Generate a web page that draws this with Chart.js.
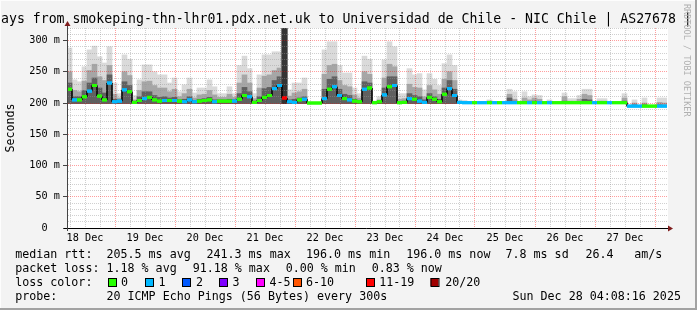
<!DOCTYPE html>
<html><head><meta charset="utf-8">
<script src="https://cdn.jsdelivr.net/npm/chart.js@4/dist/chart.umd.min.js"></script>
<style>html,body{margin:0;padding:0;background:#f3f3f3;}canvas{display:block}</style>
</head><body>
<canvas id="c" width="697" height="310"></canvas>
<script>
// ---- data ----
const dayLabels = ['18 Dec','19 Dec','20 Dec','21 Dec','22 Dec','23 Dec','24 Dec','25 Dec','26 Dec','27 Dec'];
const windowStartHour = 4.8;   // hours after 18 Dec 00:00
const windowHours = 240;
const binHours = 2;
const yTickValues = [0,10,20,30,40,50,60,70,80,90,100,110,120,130,140,150,160,170,180,190,200,210,220,230,240,250,260,270,280,290,300,310,320];

const medianRtt = [
222,205,205,210,219,228,211,205,232,202, 203,221,218,201,204,207,209,205,203,204,
204,204,203,202,205,202,203,204,205,202, 203,203,203,203,206,212,210,201,204,209,
212,223,228,208,202,201,205,206,200,200, 200,207,222,226,212,207,205,203,202,222,
224,200.5,202,213,226,228,200.5,201,207,206, 203,201,209,206,202,214,223,212,201,200.5,
200.5,200.5,200.5,200.5,200.5,200.5,200.5,200.5,200.5,200.5, 200.5,200.5,200.5,200.5,200.5,200.5,200.5,200.5,200.5,200.5,
200.5,200.5,200.5,200.5,200.5,200.5,200.5,200.5,200.5,200.5, 200.5,200.5,195,195,195,195,195,195,195,195];
const lossCount = [
0,1,0,0,1,0,0,0,1,1, 1,1,0,0,0,1,0,0,0,1,
0,1,0,1,1,1,0,0,0,1, 0,0,0,1,0,0,1,0,0,0,
0,1,1,15,1,1,0,1,0,0, 0,1,0,1,1,0,1,0,0,1,
0,0,0,1,0,1,0,0,1,0, 1,1,0,0,0,0,1,1,1,1,
1,0,1,1,0,1,0,1,1,1, 0,0,1,0,1,0,1,0,0,0,
0,0,0,0,0,1,0,0,1,0, 0,0,1,1,1,0,0,0,1,1];
const smokeMin = [
199,199,199,199,199,199,199,199,199,199, 199,199,199,199,199,199,199,199,199,199,
199,199,199,199,199,199,199,199,199,199, 199,199,199,199,199,199,199,199,199,199,
199,199,199,199,199,199,199,199,199,199, 199,199,199,199,199,199,199,199,199,199,
199,199,199,199,199,199,199,199,199,199, 199,199,199,199,199,199,199,199,199,199,
199,199,199,199,199,199,199,199,199,199, 199,199,199,199,199,199,199,199,199,199,
199,199,199,199,199,199,199,199,199,199, 199,199,194,194,194,194,194,194,194,194];
const smokeDark = [
232,210,210,220,232,240,224,216,245,206, 205,234,228,202,210,218,218,212,209,210,
208,209,205,206,210,204,206,207,209,205, 205,205,206,205,215,225,218,203,210,223,
225,236,242,320,205,206,208,210,200,200, 200,222,238,242,222,214,212,206,204,234,
232,200.5,203,224,242,242,202,203,215,212, 210,205,215,210,206,224,236,222,201,200.5,
200.5,200.5,200.5,200.5,201,200.5,200.5,200.5,208,203, 200.5,202,201,203,202,200.5,201,200.5,200.5,203,
201,201,202,206,205,200.5,201,201,200.5,200.5, 200.5,203,195,197,195,197,195,195,197,196];
const smokeMid = [
250,220,218,235,252,262,242,236,260,214, 208,250,244,205,220,234,235,228,224,224,
218,222,210,215,222,208,213,214,220,213, 209,209,214,209,232,245,232,207,224,243,
245,252,256,320,211,216,218,222,200,200, 200,246,260,262,236,228,226,213,208,250,
246,201,205,240,262,258,206,207,230,225, 224,210,228,221,214,238,250,236,202,201,
201,200.5,200.5,200.5,203,200.5,200.5,200.5,214,206, 201,208,205,208,206,200.5,202,200.5,200.5,210,
203,203,206,214,212,200.5,203,203,200.5,200.5, 200.5,208,195,200,195,200,195,195,201,200];
const smokeMax = [
288,237,234,258,285,291,274,264,290,232, 215,277,270,212,237,261,261,250,245,245,
232,240,218,229,240,216,224,224,237,226, 215,215,226,215,260,275,255,215,245,277,
277,282,282,320,221,232,232,240,201,200, 200,285,298,298,260,248,248,224,215,275,
270,203,210,269,298,290,215,215,255,245, 247,221,247,238,228,263,277,260,205,204,
202,201,201,201,205,201,201,201,222,218, 203,218,210,213,212,201,205,201,201,216,
207,207,212,222,222,201,207,207,201,201, 201,215,196,205,196,208,196,196,208,208];

const lossColors = [[0,'#26ff00'],[1,'#00b8ff'],[2,'#0059ff'],[3,'#7e00ff'],[5,'#ff00ff'],[10,'#ff5500'],[19,'#ff0000'],[20,'#a10000']];
const lossLegend = [['0','#26ff00'],['1','#00b8ff'],['2','#0059ff'],['3','#7e00ff'],['4-5','#ff00ff'],['6-10','#ff5500'],['11-19','#ff0000'],['20/20','#a10000']];

function lossColor(n){ for (const [lim,c] of lossColors) if (n <= lim) return c; return '#a10000'; }
const binX = medianRtt.map((_, i) => windowStartHour + binHours * i + binHours / 2);

const MONO = '"DejaVu Sans Mono", "Liberation Mono", monospace';
const MAJOR = 'rgba(255,0,0,0.38)';
const MINOR = 'rgba(150,150,150,0.45)';

function bars(low, high, color, heavyColor, order){
  return { type:'bar', data: binX.map((x,i)=>({x, y:[low[i], high[i]]})),
    backgroundColor: c => (lossCount[c.dataIndex] > 10 ? heavyColor : color),
    borderWidth:0, barPercentage:1, categoryPercentage:1, grouped:false, order };
}

const bgPlugin = {
  id:'bg',
  beforeDraw(chart){
    const {ctx, chartArea:a} = chart;
    ctx.save();
    ctx.fillStyle = '#f3f3f3'; ctx.fillRect(0,0,chart.width,chart.height);
    ctx.fillStyle = '#ffffff'; ctx.fillRect(a.left, a.top, a.right - a.left + 1, a.bottom - a.top);
    ctx.restore();
  },
  afterDraw(chart){
    const {ctx, chartArea:a} = chart;
    // redraw median line on top of grid
    ctx.save();
    ctx.beginPath(); ctx.rect(a.left, a.top - 2, a.right - a.left, a.bottom - a.top + 2); ctx.clip();
    [1,0].forEach(i => chart.getDatasetMeta(i).controller.draw());
    ctx.restore();

    ctx.save();
    // axes extensions and arrows
    ctx.strokeStyle = '#000'; ctx.lineWidth = 1;
    ctx.beginPath(); ctx.moveTo(a.left - 3, a.bottom + 0.5); ctx.lineTo(a.right + 2, a.bottom + 0.5); ctx.stroke();
    ctx.strokeStyle = '#444';
    ctx.beginPath(); ctx.moveTo(a.left + 0.5, a.bottom + 3); ctx.lineTo(a.left + 0.5, a.top - 3); ctx.stroke();
    ctx.fillStyle = '#7f1d1d';
    ctx.beginPath(); ctx.moveTo(a.left + 0.5, a.top - 7); ctx.lineTo(a.left - 2.5, a.top - 2); ctx.lineTo(a.left + 3.5, a.top - 2); ctx.closePath(); ctx.fill();
    ctx.beginPath(); ctx.moveTo(a.right + 6, a.bottom + 0.5); ctx.lineTo(a.right + 1, a.bottom - 2.5); ctx.lineTo(a.right + 1, a.bottom + 3.5); ctx.closePath(); ctx.fill();

    // title
    ctx.fillStyle = '#000'; ctx.textBaseline = 'alphabetic'; ctx.textAlign = 'left';
    ctx.font = '13.2px ' + MONO;
    ctx.fillText('ays from smokeping-thn-lhr01.pdx.net.uk to Universidad de Chile - NIC Chile | AS27678 |', 1, 23);

    // legend
    ctx.font = '11.67px ' + MONO;
    const put = (t, x, y) => ctx.fillText(t, x, y);
    put('median rtt:', 15.2, 258); put('205.5 ms avg', 106.5, 258); put('241.3 ms max', 206.5, 258);
    put('196.0 ms min', 306, 258); put('196.0 ms now', 406.2, 258); put('7.8 ms sd', 505.5, 258);
    put('26.4', 585.5, 258); put('am/s', 634.2, 258);
    put('packet loss:', 15.2, 272); put('1.18 % avg', 106.5, 272); put('91.18 % max', 192.7, 272);
    put('0.00 % min', 285.7, 272); put('0.83 % now', 371.7, 272);
    put('loss color:', 15.2, 286);
    const boxX = [108,145,182,219,256,293,366,430.5];
    const txtX = [121,158.5,196,232.5,269.5,306,379.2,445.2];
    lossLegend.forEach(([lab,col],k)=>{
      ctx.fillStyle = col; ctx.fillRect(boxX[k], 278, 8, 8);
      ctx.strokeStyle = '#000'; ctx.lineWidth = 1; ctx.strokeRect(boxX[k]+0.5, 278.5, 8, 8);
      ctx.fillStyle = '#000'; put(lab, txtX[k], 286);
    });
    put('probe:', 15.2, 300); put('20 ICMP Echo Pings (56 Bytes) every 300s', 106.5, 300);
    put('Sun Dec 28 04:08:16 2025', 512.5, 300);

    // rrdtool watermark
    ctx.save();
    ctx.translate(686, 4); ctx.rotate(Math.PI/2);
    ctx.font = '8.5px ' + MONO; ctx.fillStyle = '#b0b0b0'; ctx.textBaseline = 'middle';
    ctx.fillText('RRDTOOL / TOBI OETIKER', 0, 0);
    ctx.restore();

    // 3D frame
    ctx.fillStyle = '#fdfdfd'; ctx.fillRect(0,0,697,1); ctx.fillRect(0,0,1,310);
    ctx.fillStyle = '#a2a2a2'; ctx.fillRect(0,308,697,2); ctx.fillRect(695,0,2,310);
    ctx.restore();
  }
};

new Chart(document.getElementById('c'), {
  type:'bar',
  data:{ datasets:[
    { type:'line', data: binX.map((x,i)=>({x, y: medianRtt[i]})), pointRadius:2.5, pointStyle:'line',
      pointBorderWidth:3, pointBorderColor: binX.map((_,i)=>lossColor(lossCount[i])), pointBackgroundColor:'transparent',
      showLine:false, order:0 },
    { type:'line', data: binX.map((x,i)=>({x, y: medianRtt[i]})), stepped:'middle', borderColor:'#000',
      borderWidth:1, pointRadius:0, order:1 },
    bars(smokeMin, smokeDark, '#606060', '#343434', 2),
    bars(smokeMin, smokeMid, '#a6a6a6', '#505050', 3),
    bars(smokeMin, smokeMax, '#dadada', '#5a5a5a', 4)
  ]},
  options:{
    responsive:false, animation:false, events:[], devicePixelRatio:1,
    layout:{ padding:{ left:0, top:28, right:30, bottom:65 } },
    plugins:{ legend:{display:false}, tooltip:{enabled:false} },
    scales:{
      x:{ type:'linear', offset:false, min:windowStartHour, max:windowStartHour + windowHours,
        afterFit: s => { s.height = 17; },
        afterBuildTicks: s => { const t=[]; for (let h=6; h<=240; h+=6) t.push({value:h}); s.ticks = t; },
        grid:{ offset:false, z:1, lineWidth:1, color: c => (c.tick && c.tick.value % 24 === 0) ? MAJOR : MINOR,
          tickLength:3, tickColor:'rgba(0,0,0,0)' },
        border:{ display:true, color:'#000', dash:[1,1] },
        ticks:{ autoSkip:false, maxRotation:0, minRotation:0, padding:1, color:'#000',
          font:{ family: MONO, size:10.2 },
          callback: v => { if ((v - 12) % 24 === 0) return dayLabels[(v - 12) / 24] || ''; return ''; } }
      },
      y:{ type:'linear', min:0, max:320,
        afterFit: s => { s.width = 67; },
        afterBuildTicks: s => { s.ticks = yTickValues.map(v => ({value:v})); },
        grid:{ z:1, lineWidth:1, color: c => (c.tick && c.tick.value % 50 === 0 && c.tick.value > 0) ? MAJOR : MINOR,
          tickLength:4, tickColor: c => (c.tick && c.tick.value % 50 === 0) ? '#444' : 'rgba(0,0,0,0)' },
        border:{ display:true, color:'#444', dash:[1,1] },
        title:{ display:true, text:'Seconds', color:'#000', font:{ family: MONO, size:11.67 }, padding:{top:3.5, bottom:0} },
        ticks:{ autoSkip:false, padding:3, color:'#000', font:{ family: MONO, size:10.2 },
          callback: v => v === 0 ? '0  ' : (v % 50 === 0 ? v + ' m' : '') }
      }
    }
  },
  plugins:[bgPlugin]
});
</script>
</body></html>
